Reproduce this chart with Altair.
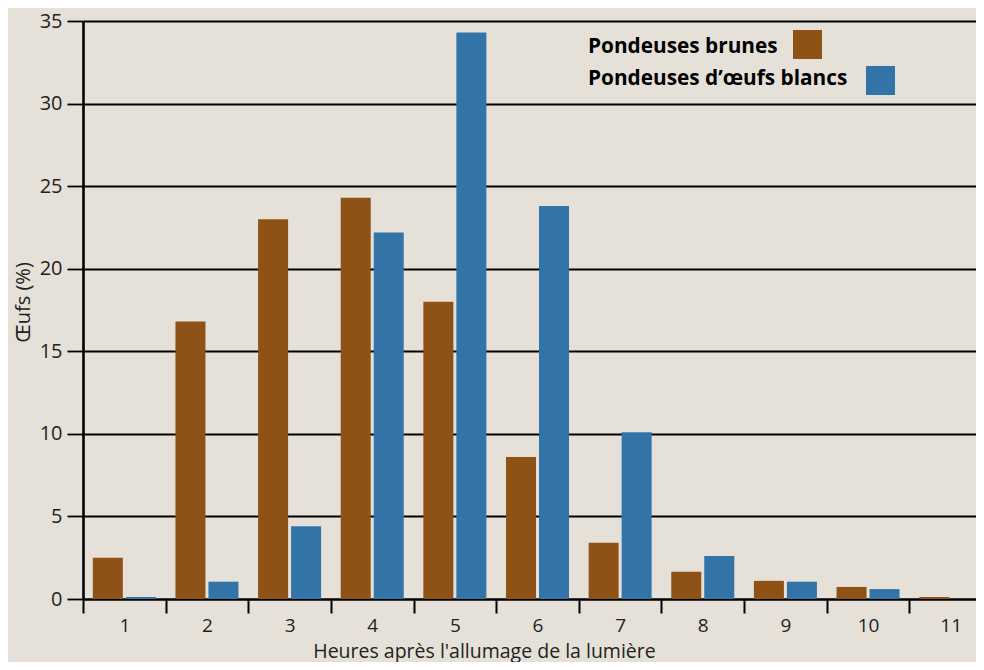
import altair as alt
import pandas as pd

FONT = "Open Sans"

hours = ["1", "2", "3", "4", "5", "6", "7", "8", "9", "10", "11"]
series = ["Pondeuses brunes", "Pondeuses d’œufs blancs"]
brown_values = [2.5, 16.8, 23.0, 24.3, 18.0, 8.6, 3.4, 1.65, 1.1, 0.73, 0.12]
white_values = [0.12, 1.05, 4.4, 22.2, 34.3, 23.8, 10.1, 2.6, 1.05, 0.6, 0.0]
colors = ["#8f5216", "#3374a8"]
y_ticks = [0, 5, 10, 15, 20, 25, 30, 35]

rows = []
for h, b, w in zip(hours, brown_values, white_values):
    rows.append({"hour": h, "series": series[0], "value": b})
    rows.append({"hour": h, "series": series[1], "value": w})
df = pd.DataFrame(rows)

bars = alt.Chart(df).mark_bar().encode(
    x=alt.X(
        "hour:N",
        sort=hours,
        scale=alt.Scale(domain=hours, range=[0, 909], paddingInner=0, paddingOuter=0),
        axis=alt.Axis(
            title="Heures après l'allumage de la lumière",
            labelAngle=0,
            tickBand="extent",
            ticks=True,
            tickSize=14,
            tickWidth=2,
            tickColor="black",
            domain=True,
            domainColor="black",
            domainWidth=2,
            grid=False,
            labelFont=FONT,
            labelFontSize=19,
            labelColor="#222",
            labelPadding=3,
            titleFont=FONT,
            titleFontSize=19.5,
            titleFontWeight="normal",
            titleColor="#222",
            titleX=401,
            titleY=58,
            titleBaseline="alphabetic",
            titleAlign="center",
        ),
    ),
    xOffset=alt.XOffset(
        "series:N",
        sort=series,
        scale=alt.Scale(domain=series, paddingInner=0.0909, paddingOuter=0.297),
    ),
    y=alt.Y(
        "value:Q",
        scale=alt.Scale(domain=[0, 35], nice=False, zero=True),
        axis=alt.Axis(
            title="Œufs (%)",
            values=y_ticks,
            grid=True,
            gridColor="black",
            gridWidth=1.8,
            gridOpacity=1,
            domain=True,
            domainColor="black",
            domainWidth=2.6,
            ticks=True,
            tickSize=16,
            tickWidth=1.8,
            tickColor="black",
            labelFont=FONT,
            labelFontSize=20,
            labelColor="#222",
            labelPadding=5,
            titleFont=FONT,
            titleFontSize=20,
            titleFontWeight="normal",
            titleColor="#222",
            titlePadding=6,
            titleY=281,
        ),
    ),
    color=alt.Color("series:N", scale=alt.Scale(domain=series, range=colors), legend=None),
)

legend_layers = []
text_pos = [(505, 25.5), (505, 57.5)]
square_pos = [(710, 739, 9, 38), (783, 812, 45, 74)]
for i, name in enumerate(series):
    tx, ty = text_pos[i]
    legend_layers.append(
        alt.Chart(pd.DataFrame({"label": [name]})).mark_text(
            align="left", baseline="middle", font=FONT, fontSize=20.8, fontWeight="bold", color="black"
        ).encode(x=alt.value(tx), y=alt.value(ty), text="label:N")
    )
    x1, x2, y1, y2 = square_pos[i]
    legend_layers.append(
        alt.Chart(pd.DataFrame({"label": [name]})).mark_rect(color=colors[i]).encode(
            x=alt.value(x1), x2=alt.value(x2), y=alt.value(y1), y2=alt.value(y2)
        )
    )

chart = alt.layer(bars, *legend_layers).properties(
    width=893,
    height=578,
    autosize=alt.AutoSizeParams(type="none"),
    padding={"left": 75, "top": 13, "right": 0, "bottom": 63},
    background="#e6e1d8",
).configure_view(stroke=None)

chart.save("out.html", embed_options={"renderer": "svg", "actions": False})
